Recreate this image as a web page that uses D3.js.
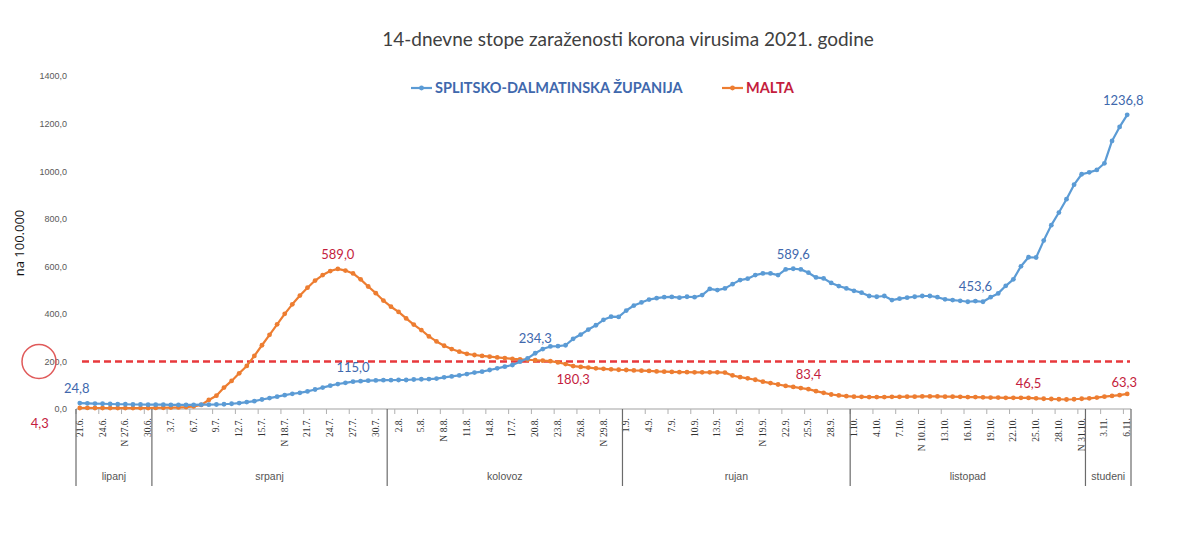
<!DOCTYPE html>
<html><head><meta charset="utf-8">
<script src="https://cdn.jsdelivr.net/npm/d3@7"></script>
<style>body{margin:0;background:#fff}svg{display:block}</style>
</head><body>
<svg id="c" width="1200" height="545"></svg>
<script>
const title = "14-dnevne stope zaraženosti korona virusima 2021. godine";
const seriesNames = ["SPLITSKO-DALMATINSKA ŽUPANIJA", "MALTA"];
// one category per day, 21.6. - 6.11.2021
const categories = d3.range(139);
const tickLabels = ["21.6.","24.6.","N 27.6.","30.6.","3.7.","6.7.","9.7.","12.7.","15.7.","N 18.7.","21.7.","24.7.","27.7.","30.7.","2.8.","5.8.","N 8.8.","11.8.","14.8.","17.7.","20.8.","23.8.","26.8.","N 29.8.","1.9.","4.9.","7.9.","10.9.","13.9.","16.9.","N 19.9.","22.9.","25.9.","28.9.","1.10.","4.10.","7.10.","N 10.10.","13.10.","16.10.","19.10.","22.10.","25.10.","28.10.","N 31.10.","3.11.","6.11."];
const months = ["lipanj","srpanj","kolovoz","rujan","listopad","studeni"];
const monthStart = [0,10,41,72,102,133,139];
const yTicks = [0,200,400,600,800,1000,1200,1400];
const threshold = 200;

const splitValues = [24.8,24,23,22,21,20,20,19,19,18,18,18,17,17,17,17,18,18,19,20,
22,25,29,33,40,46,52,58,64,68,74,82,90,98,105,110,115,117,119,120,
121,121,122,122,124,125,126,128,133,137,141,147,153,157,164,171,178,185,199,213,
234.3,252,263,264,268,295,313,334,352,375,388,387,414,435,448,460,466,470,471,468,
472,470,479,505,500,507,525,542,548,563,570,570,563,587,589.6,587,573,553,549,530,
517,507,497,489,475,472,475,458,464,468,472,475,475,470,461,458,455,451,453.6,451,
470,486,518,545,600,638,637,708,773,826,882,943,987,995,1005,1033,1127,1186,1236.8];
const maltaValues = [4.3,4.4,4.3,4.2,4.0,3.9,3.8,3.8,4.0,4.3,4.7,5.2,5.8,6.5,8,11,17,38,56,90,
118,150,181,223,268,312,356,400,440,477,510,540,563,580,589.0,582,570,545,515,487,
456,430,408,381,355,332,305,284,266,252,241,232,227,223,220,217,214,211,209,207,
205,203,201,196,189,180.3,177,174,171,169,167,165,164,162,161,160,158,157,156,155,
155,154,154,154,154,153,141,134,129,123,115,109,103,97,93,88,83.4,75,68,61,
57,54,52,51,50,50,50,51,51,52,52,53,53,53,52,52,51,50,50,49,
48,48,47,47,47,46.5,45,43,42,41,40,41,43,45,48,52,55,58,63.3];
const splitLabelIdx = [0,36,60,94,118,138];
const maltaLabelIdx = [0,34,65,96,125,138];

const svg = d3.select("#c");
const BLUE = "#5b9bd5", ORANGE = "#ed7d31", BLUE_T = "#4068ad", RED_T = "#c41d3d";
const left = 76, right = 1131, yTop = 76, yBot = 409;

const x = d3.scaleBand().domain(categories).range([left, right]);
const cx = i => x(i) + x.bandwidth() / 2;
const y = d3.scaleLinear().domain([0, 1400]).range([yBot, yTop]);
const fmt = v => d3.format(".1f")(v).replace(".", ",");

// title
svg.append("text").attr("x", 628).attr("y", 46).attr("text-anchor", "middle")
  .attr("font-family", "Lato, 'Open Sans', sans-serif").attr("font-size", 19)
  .attr("fill", "#404040").text(title);

// y axis
const yAxis = d3.axisLeft(y).tickValues(yTicks).tickFormat(fmt).tickSize(0).tickPadding(9);
const ga = svg.append("g").attr("transform", `translate(${left},0)`).call(yAxis);
ga.select(".domain").remove();
ga.selectAll("text").attr("font-family", "'Liberation Sans', Arial, sans-serif")
  .attr("font-size", 9).attr("fill", "#595959");
svg.append("text").attr("transform", "translate(24,243) rotate(-90)")
  .attr("text-anchor", "middle").attr("font-family", "'Open Sans', sans-serif")
  .attr("font-size", 13).attr("fill", "#111").text("na 100.000");

// red circle around 200,0
svg.append("circle").attr("cx", 39).attr("cy", y(threshold)).attr("r", 17)
  .attr("fill", "none").attr("stroke", "#e05a5a").attr("stroke-width", 1.5);

// category axis
svg.append("line").attr("x1", left).attr("x2", right).attr("y1", yBot).attr("y2", yBot)
  .attr("stroke", "#c0c0c0").attr("stroke-width", 1.3);
const tickIdx = tickLabels.map((d, k) => k * 3);
svg.append("g").selectAll("line").data(d3.range(0, 139, 3)).join("line")
  .attr("x1", d => x(d)).attr("x2", d => x(d)).attr("y1", yBot).attr("y2", yBot + 5)
  .attr("stroke", "#b0b0b0");
const tl = svg.append("g").selectAll("text").data(tickLabels).join("text")
  .attr("transform", (d, k) => `translate(${cx(tickIdx[k]) + 3},${yBot + 9}) rotate(-90)`)
  .attr("text-anchor", "end").attr("font-family", "'Liberation Serif', 'Times New Roman', serif")
  .attr("font-size", 9.5).attr("fill", "#333");
tl.each(function(d) {
  const t = d3.select(this);
  if (d.startsWith("N ")) {
    t.append("tspan").text("N");
    t.append("tspan").attr("dx", 2.5).text(d.slice(2));
  } else t.text(d);
});
// month level
svg.append("g").selectAll("line").data(monthStart).join("line")
  .attr("x1", d => d < 139 ? x(d) : right).attr("x2", d => d < 139 ? x(d) : right)
  .attr("y1", yBot).attr("y2", 486).attr("stroke", "#6b6b6b").attr("stroke-width", 1.2);
svg.append("g").selectAll("text").data(months).join("text")
  .attr("x", (d, k) => ((monthStart[k] < 139 ? x(monthStart[k]) : right) + (monthStart[k + 1] < 139 ? x(monthStart[k + 1]) : right)) / 2)
  .attr("y", 480).attr("text-anchor", "middle")
  .attr("font-family", "'Liberation Sans', Arial, sans-serif").attr("font-size", 10.5)
  .attr("fill", "#555").text(d => d);

// threshold dashed line
svg.append("line").attr("x1", left + 6).attr("x2", right - 1)
  .attr("y1", y(threshold)).attr("y2", y(threshold))
  .attr("stroke", "#e8393c").attr("stroke-width", 2.4).attr("stroke-dasharray", "7,4");

// series
function drawSeries(vals, color) {
  const line = d3.line().x((d, i) => cx(i)).y(d => y(d));
  svg.append("path").datum(vals).attr("d", line).attr("fill", "none")
    .attr("stroke", color).attr("stroke-width", 2.2).attr("stroke-linejoin", "round");
  svg.append("g").selectAll("circle").data(vals).join("circle")
    .attr("cx", (d, i) => cx(i)).attr("cy", d => y(d)).attr("r", 2.4).attr("fill", color);
}
drawSeries(maltaValues, ORANGE);
drawSeries(splitValues, BLUE);

// data labels
const lblFont = "Lato, 'Open Sans', sans-serif";
function labels(vals, idx, color, place) {
  svg.append("g").selectAll("text").data(idx).join("text")
    .attr("x", i => cx(i) + (place[i] ? place[i][0] : 0))
    .attr("y", i => y(vals[i]) + (place[i] ? place[i][1] : -10))
    .attr("text-anchor", "middle").attr("font-family", lblFont).attr("font-size", 13)
    .attr("fill", color).text(i => fmt(vals[i]));
}
labels(splitValues, splitLabelIdx, BLUE_T, {0: [-3, -10], 138: [-4, -10]});
labels(maltaValues, maltaLabelIdx, RED_T, {0: [-40, 20], 65: [0, 18], 138: [-3, -7]});

// legend
const lg = [{x: 411, c: BLUE, t: BLUE_T, name: seriesNames[0]}, {x: 722, c: ORANGE, t: RED_T, name: seriesNames[1]}];
lg.forEach(L => {
  svg.append("line").attr("x1", L.x).attr("x2", L.x + 21).attr("y1", 88).attr("y2", 88)
    .attr("stroke", L.c).attr("stroke-width", 2.2);
  svg.append("circle").attr("cx", L.x + 10.5).attr("cy", 88).attr("r", 2.4).attr("fill", L.c);
  svg.append("text").attr("x", L.x + 24).attr("y", 93).attr("font-family", lblFont)
    .attr("font-weight", "bold").attr("font-size", 14.5).attr("fill", L.t).text(L.name);
});
</script>
</body></html>
